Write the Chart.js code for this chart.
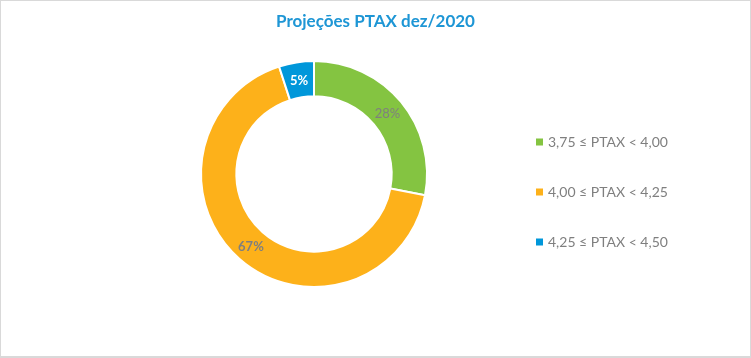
<!DOCTYPE html>
<html><head><meta charset="utf-8">
<style>
html,body{margin:0;padding:0;background:#fff;}
#wrap{position:absolute;left:0;top:0;width:749px;height:355px;border:1px solid #d9d9d9;border-bottom-width:2px;background:#fff;}
canvas{display:block;}
</style>
<script src="https://cdn.jsdelivr.net/npm/chart.js@4"></script>
</head><body>
<div id="wrap"><canvas id="c" width="749" height="355"></canvas></div>
<script>
const chartTitle = "Projeções PTAX dez/2020";
const categories = ["3,75 ≤ PTAX < 4,00", "4,00 ≤ PTAX < 4,25", "4,25 ≤ PTAX < 4,50"];
const shares = [28, 67, 5];
const pctLabels = ["28%", "67%", "5%"];
const colors = ["#84C441", "#FDB11A", "#0097DA"];
const labelColors = ["#7F7F7F", "#7F7F7F", "#FFFFFF"];

const FONT = "Lato, 'Open Sans', sans-serif";

const sliceLabels = {
  id: 'sliceLabels',
  afterDatasetsDraw(chart) {
    const ctx = chart.ctx;
    const meta = chart.getDatasetMeta(0);
    ctx.save();
    ctx.textAlign = 'center';
    ctx.textBaseline = 'middle';
    meta.data.forEach((arc, i) => {
      const p = arc.tooltipPosition();
      ctx.font = (i === 1 || i === 2 ? 'bold ' : '') + '13px ' + FONT;
      ctx.fillStyle = labelColors[i];
      ctx.fillText(pctLabels[i], p.x, p.y + 1);
    });
    ctx.restore();
  }
};

const titleAndLegend = {
  id: 'titleAndLegend',
  afterDraw(chart) {
    const ctx = chart.ctx;
    ctx.save();
    ctx.textAlign = 'center';
    ctx.textBaseline = 'middle';
    ctx.font = 'bold 17px ' + FONT;
    ctx.fillStyle = '#1E96D5';
    ctx.fillText(chartTitle, chart.width / 2, 21);

    ctx.textAlign = 'left';
    ctx.font = '14px ' + FONT;
    const x0 = 535, y0 = 141, step = 50;
    chart.data.labels.forEach((lab, i) => {
      const y = y0 + i * step;
      ctx.fillStyle = chart.data.datasets[0].backgroundColor[i];
      ctx.fillRect(x0, y - 3.5, 7, 7);
      ctx.fillStyle = '#7F7F7F';
      ctx.fillText(lab, x0 + 12, y + 0.5);
    });
    ctx.restore();
  }
};

new Chart(document.getElementById('c'), {
  type: 'doughnut',
  data: {
    labels: categories,
    datasets: [{
      data: shares,
      backgroundColor: colors,
      borderColor: '#FFFFFF',
      borderWidth: 2,
      hoverOffset: 0
    }]
  },
  options: {
    responsive: false,
    animation: false,
    cutout: '68.75%',
    layout: { padding: { left: 0, right: 123, top: 59, bottom: 68 } },
    plugins: {
      legend: { display: false },
      tooltip: { enabled: false },
      title: { display: false }
    }
  },
  plugins: [sliceLabels, titleAndLegend]
});
</script>
</body></html>
